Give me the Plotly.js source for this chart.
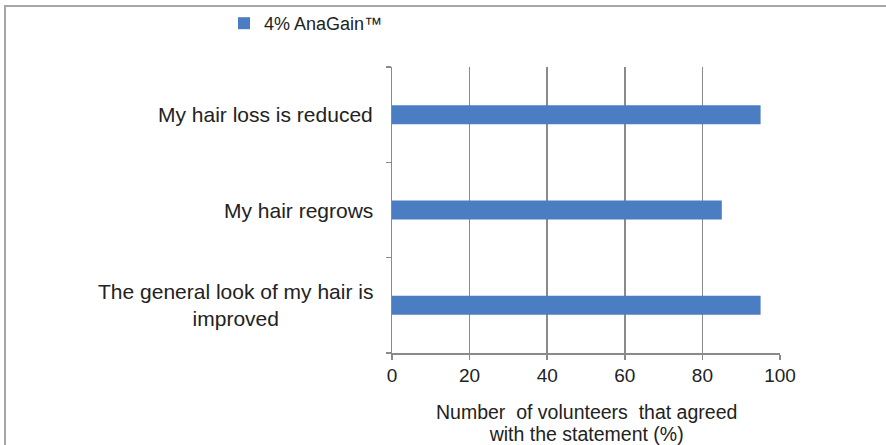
<!DOCTYPE html>
<html>
<head>
<meta charset="utf-8">
<script src="https://cdn.plot.ly/plotly-3.0.1.min.js"></script>
<style>
html,body{margin:0;padding:0;background:#fff;overflow:hidden;}
#wrap{position:relative;width:886px;height:445px;}
#chart{position:absolute;left:0;top:0;width:886px;height:445px;}
#frame{position:absolute;left:4px;top:5px;width:900px;height:460px;border-top:2px solid #a6a6a6;border-left:2px solid #a6a6a6;pointer-events:none;}
</style>
</head>
<body>
<div id="wrap">
<div id="chart"></div>
<div id="frame"></div>
</div>
<script>
const categories = ["My hair loss is reduced", "My hair regrows", "The general look of my hair is<br>improved"];
const values = [95, 85, 95];
const seriesName = "4% AnaGain™";
const xTicks = [0, 20, 40, 60, 80, 100];
const xTitleLines = ["Number  of volunteers  that agreed", "with the statement (%)"];

const FONT = "Liberation Sans, Arial, sans-serif";
const TXT = "#222222";

const trace = {
  type: "bar",
  orientation: "h",
  y: categories,
  x: values,
  name: seriesName,
  marker: {color: "#4a7dc2", line: {width: 0}},
  width: 0.2,
  hoverinfo: "x+y"
};

const annotations = categories.map(c => ({
  text: c,
  xref: "paper", yref: "y",
  x: 0, y: c,
  xanchor: "right", yanchor: "middle",
  xshift: -17,
  align: "center",
  showarrow: false,
  font: {family: FONT, size: 21, color: TXT}
}));

// axis title: one text, tight line spacing (base size sets the spacing, spans set glyph size)
annotations.push({
  text: xTitleLines.map(t => '<span style="font-size:19.5px">' + t + '</span>').join("<br>"),
  xref: "paper", yref: "paper",
  x: 0.5, y: 0,
  xanchor: "center", yanchor: "top",
  yshift: -46,
  align: "center",
  showarrow: false,
  font: {family: FONT, size: 17, color: TXT}
});

const layout = {
  width: 886, height: 445,
  margin: {l: 392, r: 106, t: 67, b: 92},
  paper_bgcolor: "#fff",
  plot_bgcolor: "#fff",
  showlegend: true,
  legend: {
    xref: "container", yref: "container",
    x: 224/886, y: 1 - 5/445,
    xanchor: "left", yanchor: "top",
    orientation: "h",
    font: {family: FONT, size: 18, color: TXT},
    bgcolor: "rgba(0,0,0,0)"
  },
  xaxis: {
    range: [0, 100],
    tickvals: xTicks,
    ticktext: xTicks.map(String),
    showgrid: true,
    gridcolor: "#8a8a8a",
    gridwidth: 1.5,
    showline: true,
    linecolor: "#8a8a8a",
    linewidth: 1.5,
    ticks: "outside",
    ticklen: 5,
    tickcolor: "#8a8a8a",
    tickwidth: 1.5,
    zeroline: false,
    tickfont: {family: FONT, size: 19, color: TXT},
    fixedrange: true
  },
  yaxis: {
    type: "category",
    categoryorder: "array",
    categoryarray: categories.slice().reverse(),
    showticklabels: false,
    showgrid: false,
    showline: true,
    linecolor: "#8a8a8a",
    linewidth: 1.5,
    ticks: "outside",
    tickson: "boundaries",
    ticklen: 5,
    tickcolor: "#8a8a8a",
    tickwidth: 1.5,
    zeroline: false,
    fixedrange: true
  },
  annotations: annotations
};

Plotly.newPlot("chart", [trace], layout, {displayModeBar: false, staticPlot: true});
</script>
</body>
</html>
